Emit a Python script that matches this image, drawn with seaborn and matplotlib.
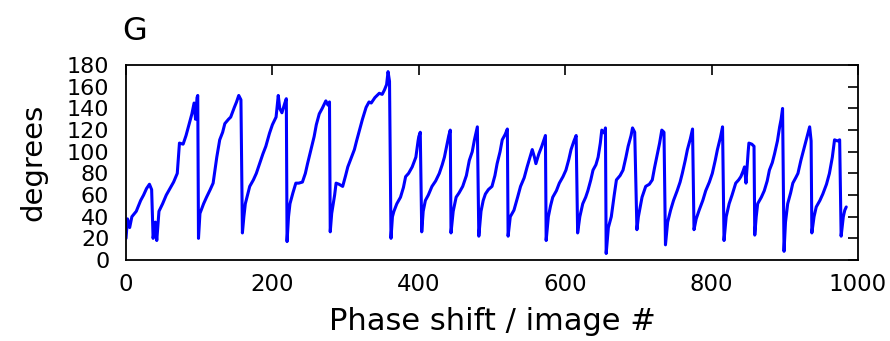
import numpy as np
import pandas as pd
import matplotlib
matplotlib.use("Agg")
import matplotlib.pyplot as plt
import seaborn as sns

# (image #, degrees)
image_index = [
    0, 2, 5, 8, 14, 20, 24, 28, 32, 35, 37, 40, 42, 45, 50, 55, 60, 65, 70, 73,
    78, 82, 86, 90, 93, 95, 97, 98, 99, 101, 106, 110, 115, 119, 122, 124, 128,
    132, 135, 140, 143, 148, 151, 154, 157, 159, 161, 163, 166, 169, 174, 178,
    183, 187, 191, 196, 200, 205, 208, 210, 213, 217, 219, 220, 222, 224, 228,
    232, 236, 241, 245, 248, 252, 257, 260, 264, 268, 273, 276, 278, 279, 281,
    285, 287, 291, 296, 300, 303, 308, 312, 315, 319, 323, 328, 332, 335, 340,
    346, 350, 353, 356, 358, 360, 362, 364, 366, 370, 375, 379, 382, 386, 391,
    396, 399, 400, 402, 404, 406, 409, 413, 418, 423, 428, 432, 435, 438, 441,
    443, 444, 447, 451, 455, 460, 465, 469, 473, 476, 480, 482, 485, 488, 491,
    495, 500, 504, 507, 511, 514, 518, 521, 522, 525, 530, 535, 539, 544, 548,
    552, 555, 558, 560, 564, 568, 571, 573, 574, 577, 580, 583, 588, 592, 597,
    601, 605, 608, 612, 615, 617, 620, 624, 628, 631, 635, 638, 642, 645, 648,
    650, 654, 655, 656, 659, 663, 667, 670, 675, 679, 683, 686, 690, 692, 695,
    698, 700, 705, 710, 715, 719, 722, 725, 729, 732, 735, 737, 740, 744, 748,
    753, 757, 760, 764, 767, 771, 774, 776, 779, 783, 788, 792, 797, 801, 805,
    808, 812, 815, 817, 820, 824, 828, 833, 837, 840, 843, 845, 847, 850, 851,
    855, 858, 859, 861, 863, 868, 872, 876, 879, 883, 886, 890, 893, 895, 897,
    899, 901, 904, 908, 911, 915, 918, 922, 927, 931, 934, 936, 937, 940, 943,
    948, 952, 957, 961, 965, 968, 972, 975, 977, 980, 982, 984,
]
angle_deg = [
    20, 38, 30, 40, 45, 55, 60, 66, 70, 65, 20, 35, 18, 45, 52, 60, 66, 72, 80, 108,
    107, 115, 125, 135, 145, 130, 150, 152, 20, 43, 52, 58, 65, 71, 85, 95, 111,
    118, 126, 130, 132, 141, 146, 152, 148, 25, 40, 52, 60, 68, 74, 80,
    90, 98, 105, 117, 125, 132, 152, 140, 136, 145, 149, 17, 40, 52, 62,
    71, 71, 72, 80, 89, 100, 114, 125, 135, 140, 147, 143, 146, 26, 43,
    60, 71, 70, 68, 78, 86, 95, 102, 110, 120, 130, 141, 146, 145, 150,
    154, 153, 157, 162, 174, 165, 20, 40, 45, 52, 58, 67, 77, 80, 86,
    95, 110, 114, 118, 26, 45, 55, 60, 68, 73, 80, 88, 95, 105, 115,
    120, 25, 45, 58, 62, 68, 78, 92, 100, 111, 123, 22, 45, 55, 61,
    65, 68, 78, 89, 100, 111, 116, 121, 22, 40, 46, 58, 68, 76, 86,
    95, 102, 95, 89, 98, 105, 111, 115, 18, 40, 50, 58, 64, 71, 77,
    83, 93, 102, 110, 115, 25, 40, 52, 58, 64, 74, 83, 88, 95, 108,
    120, 117, 122, 6, 30, 40, 60, 74, 78, 83, 95, 105, 115, 122, 118,
    28, 40, 58, 68, 70, 74, 85, 95, 108, 120, 118, 14, 35, 46, 55,
    64, 72, 80, 92, 102, 112, 121, 28, 38, 46, 55, 64, 72, 80, 92,
    102, 113, 123, 18, 40, 52, 60, 71, 74, 77, 82, 86, 71, 100, 108,
    107, 105, 23, 40, 52, 58, 64, 73, 83, 90, 98, 110, 123, 130, 140,
    8, 35, 52, 62, 71, 76, 80, 92, 105, 115, 123, 110, 25, 40, 49,
    55, 61, 70, 80, 95, 111, 110, 111, 22, 40, 46, 49,
]

df = pd.DataFrame({"image": image_index, "degrees": angle_deg})

sns.set_style("white")
plt.rcParams.update({
    "font.family": ["DejaVu Sans"],
    "text.color": "black",
    "axes.labelcolor": "black",
    "xtick.color": "black",
    "ytick.color": "black",
    "xtick.direction": "in",
    "ytick.direction": "in",
    "xtick.major.size": 7,
    "ytick.major.size": 7,
    "xtick.major.pad": 9,
    "ytick.major.pad": 12,
})

fig = plt.figure(figsize=(8.9, 3.41), dpi=100)
ax = fig.add_axes([0.1416, 0.2375, 0.8224, 0.5715])

sns.lineplot(data=df, x="image", y="degrees", ax=ax, color="#0000ff",
             linewidth=2.2, estimator=None, sort=False)

ax.set_xlim(0, 1000)
ax.set_ylim(0, 180)
ax.set_xticks(np.arange(0, 1001, 200))
ax.set_yticks(np.arange(0, 181, 20))
ax.tick_params(axis="x", labelsize=16.5)
ax.tick_params(axis="y", labelsize=16)
ax.tick_params(axis="both", width=1.2, top=True, right=True)
for s in ax.spines.values():
    s.set_color("black")
    s.set_linewidth(1.3)

ax.set_xlabel("Phase shift / image #", fontsize=22, labelpad=8)
ax.set_ylabel("degrees", fontsize=21, labelpad=14)

fig.text(0.137, 0.883, "G", fontsize=23, ha="left", va="baseline")

fig.savefig("out.png", dpi=100)
